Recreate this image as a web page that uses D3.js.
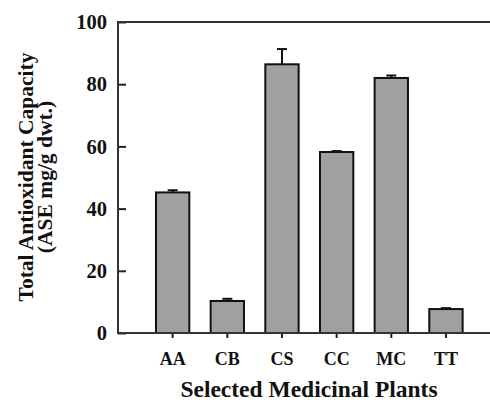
<!DOCTYPE html>
<html>
<head>
<meta charset="utf-8">
<script src="https://cdn.jsdelivr.net/npm/d3@7"></script>
<style>
  html, body { margin: 0; padding: 0; background: #fff; }
  svg { display: block; font-family: "Liberation Serif", "Times New Roman", serif; font-weight: bold; }
</style>
</head>
<body>
<svg id="chart" width="490" height="403"></svg>
<script>
// Plant codes and TAC values (mean, error)
const plants = ["AA", "CB", "CS", "CC", "MC", "TT"];
const tacMean = [45.2, 10.3, 86.4, 58.2, 82.0, 7.7];
const tacErr = [0.7, 0.7, 4.9, 0.3, 0.8, 0.3];
const yTicks = [0, 20, 40, 60, 80, 100];

const W = 490, H = 403;
const plotLeft = 118, plotTop = 22, plotBottom = 333;
const step = 54.66;

const svg = d3.select("#chart");

const x = d3.scaleBand()
  .domain(plants)
  .range([plotLeft + step / 2, plotLeft + step * 6.5])
  .paddingInner(0.39)
  .paddingOuter(0.195);

const y = d3.scaleLinear().domain([0, 100]).range([plotBottom, plotTop]);

const data = plants.map((p, i) => ({ name: p, v: tacMean[i], e: tacErr[i] }));

// error bars (drawn first so the bar covers the lower half)
const eb = svg.append("g").attr("stroke", "#111").attr("stroke-width", 2);
eb.selectAll("line.v")
  .data(data)
  .join("line")
  .attr("class", "v")
  .attr("x1", d => x(d.name) + x.bandwidth() / 2)
  .attr("x2", d => x(d.name) + x.bandwidth() / 2)
  .attr("y1", d => y(d.v))
  .attr("y2", d => y(d.v + d.e));
eb.selectAll("line.cap")
  .data(data)
  .join("line")
  .attr("class", "cap")
  .attr("x1", d => x(d.name) + x.bandwidth() / 2 - 5)
  .attr("x2", d => x(d.name) + x.bandwidth() / 2 + 5)
  .attr("y1", d => y(d.v + d.e))
  .attr("y2", d => y(d.v + d.e));

// bars
svg.append("g")
  .selectAll("rect")
  .data(data)
  .join("rect")
  .attr("x", d => x(d.name))
  .attr("y", d => y(d.v))
  .attr("width", x.bandwidth())
  .attr("height", d => y(0) - y(d.v))
  .attr("fill", "#a0a0a0")
  .attr("stroke", "#111")
  .attr("stroke-width", 2);

// y axis (ticks inward)
const yAxis = svg.append("g")
  .attr("transform", `translate(${plotLeft},0)`)
  .call(d3.axisRight(y).tickValues(yTicks).tickSize(8).tickFormat(""));
yAxis.select(".domain").remove();
yAxis.selectAll("line").attr("stroke", "#222").attr("stroke-width", 2);
svg.append("g")
  .selectAll("text")
  .data(yTicks)
  .join("text")
  .attr("x", plotLeft - 11)
  .attr("y", d => y(d))
  .attr("dy", "0.35em")
  .attr("text-anchor", "end")
  .attr("font-size", 20.5)
  .attr("fill", "#111")
  .text(d => d);

// x axis (ticks outward)
const xAxis = svg.append("g")
  .attr("transform", `translate(0,${plotBottom})`)
  .call(d3.axisBottom(x).tickSize(5).tickSizeOuter(0).tickPadding(14));
xAxis.select(".domain").remove();
xAxis.selectAll("line").attr("stroke", "#222").attr("stroke-width", 2);
xAxis.selectAll("text")
  .attr("font-size", 18)
  .attr("font-family", "Liberation Serif, serif")
  .attr("font-weight", "bold")
  .attr("fill", "#111");

// frame: left, top, bottom (right side cut off)
const frame = svg.append("g").attr("stroke", "#333").attr("stroke-width", 2).attr("fill", "none");
frame.append("path").attr("d", `M${W},${plotTop}H${plotLeft}V${plotBottom}H${W}`);

// axis titles
svg.append("text")
  .attr("transform", "translate(33,177) rotate(-90)")
  .attr("text-anchor", "middle")
  .attr("font-size", 21.5)
  .attr("fill", "#111")
  .text("Total Antioxidant Capacity");
svg.append("text")
  .attr("transform", "translate(52,177) rotate(-90)")
  .attr("text-anchor", "middle")
  .attr("font-size", 21.5)
  .attr("fill", "#111")
  .text("(ASE mg/g dwt.)");

svg.append("text")
  .attr("x", 309)
  .attr("y", 397)
  .attr("text-anchor", "middle")
  .attr("font-size", 23.5)
  .attr("fill", "#111")
  .text("Selected Medicinal Plants");
</script>
</body>
</html>
